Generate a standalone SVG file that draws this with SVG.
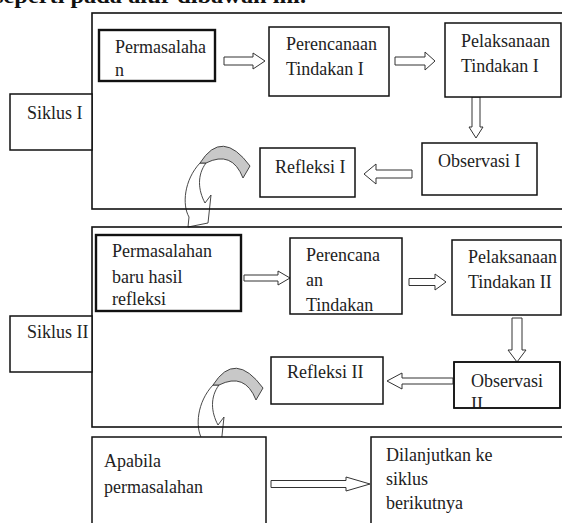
<svg xmlns="http://www.w3.org/2000/svg" width="562" height="523" viewBox="0 0 562 523">
<style>
  text { font-family: "Liberation Serif", "Times New Roman", serif; font-size: 18px; fill: #222; }
  .top { font-weight: bold; font-size: 20px; fill: #111; }
  .frame { fill: none; stroke: #111; stroke-width: 1.6; }
  .box { fill: #fff; stroke: #111; stroke-width: 1.5; }
  .thick { fill: #fff; stroke: #111; stroke-width: 2.4; }
  .blk { fill: #fff; stroke: #333; stroke-width: 1; stroke-linejoin: miter; }
  .band { fill: #c8c8c8; stroke: #333; stroke-width: 0.9; }
  .tail { fill: #fff; stroke: #333; stroke-width: 0.9; }
</style>
<defs>
  <clipPath id="obs2clip"><rect x="454" y="362" width="106" height="46"/></clipPath>
  <g id="curved">
    <path class="tail" d="M200,163 C184,180 182,205 189,217 L188,227 L208,223 L211,195 L205,203 C198,190 197,175 206,163 Z"/>
    <path class="band" d="M200,163 Q222,128 250,166 L243,178 Q232,150 206,163 Z"/>
  </g>
</defs>
<rect width="562" height="523" fill="#fff"/>
<text class="top" x="-6" y="3" textLength="312" lengthAdjust="spacingAndGlyphs">seperti pada alur dibawah ini.</text>

<g id="connectors">
  <polygon class="blk" points="224,57 253,57 253,53 265,61 253,69 253,65 224,65"/>
  <polygon class="blk" points="395,57 425,57 425,52 435,61 425,70 425,65 395,65"/>
  <polygon class="blk" points="472,97 480,97 480,127 483,127 476,138 469,127 472,127"/>
  <polygon class="blk" points="412,170 376,170 376,164 364,174 376,184 376,178 412,178"/>
  <use href="#curved"/>
  <polygon class="blk" points="244,275 278,275 278,271 290,278 278,285 278,281 244,281"/>
  <polygon class="blk" points="409,278.5 435,278.5 435,274 446,282 435,290 435,285.5 409,285.5"/>
  <polygon class="blk" points="512,318 522,318 522,350 526,350 517,362 508,350 512,350"/>
  <polygon class="blk" points="453,378 402,378 402,373 387,381 402,389 402,384 453,384"/>
  <use href="#curved" transform="translate(13,222)"/>
  <polygon class="blk" points="271,480.5 346,480.5 346,477 370,484 346,491 346,487.5 271,487.5"/>
</g>

<g id="frame-siklus-1"><rect class="frame" x="92" y="13" width="480" height="196"/></g>
<g id="frame-siklus-2"><rect class="frame" x="92" y="227" width="480" height="200"/></g>

<g id="siklus-1">
  <rect class="box" x="10" y="94" width="82" height="56"/>
  <text x="27" y="119">Siklus I</text>
</g>
<g id="permasalahan-1">
  <rect class="thick" x="99" y="30" width="116" height="51"/>
  <text x="115" y="53">Permasalaha</text>
  <text x="115" y="76">n</text>
</g>
<g id="perencanaan-1">
  <rect class="box" x="269" y="27" width="120" height="69"/>
  <text x="286" y="50">Perencanaan</text>
  <text x="286" y="75">Tindakan I</text>
</g>
<g id="pelaksanaan-1">
  <rect class="box" x="445" y="23" width="116" height="74"/>
  <text x="461" y="47">Pelaksanaan</text>
  <text x="461" y="72">Tindakan I</text>
</g>
<g id="observasi-1">
  <rect class="box" x="422" y="143" width="115" height="52"/>
  <text x="438" y="167">Observasi I</text>
</g>
<g id="refleksi-1">
  <rect class="box" x="260" y="148" width="95" height="49"/>
  <text x="275" y="173">Refleksi I</text>
</g>

<g id="siklus-2">
  <rect class="box" x="10" y="316" width="82" height="56"/>
  <text x="27" y="338">Siklus II</text>
</g>
<g id="permasalahan-2">
  <rect class="thick" x="96" y="235" width="145" height="76"/>
  <text x="112" y="257">Permasalahan</text>
  <text x="112" y="283">baru hasil</text>
  <text x="112" y="305">refleksi</text>
</g>
<g id="perencanaan-2">
  <rect class="box" x="290" y="238" width="112" height="76"/>
  <text x="306" y="261">Perencana</text>
  <text x="306" y="286">an</text>
  <text x="306" y="311">Tindakan</text>
</g>
<g id="pelaksanaan-2">
  <rect class="box" x="452" y="240" width="109" height="75"/>
  <text x="468" y="263">Pelaksanaan</text>
  <text x="468" y="288">Tindakan II</text>
</g>
<g id="observasi-2">
  <rect class="box" x="454" y="362" width="106" height="46"/>
  <g clip-path="url(#obs2clip)">
    <text x="471" y="387">Observasi</text>
    <text x="471" y="410">II</text>
  </g>
  <rect x="454" y="362" width="106" height="46" fill="none" stroke="#111" stroke-width="1.5"/>
</g>
<g id="refleksi-2">
  <rect class="box" x="271" y="357" width="112" height="47"/>
  <text x="287" y="378">Refleksi II</text>
</g>

<g id="apabila">
  <rect class="box" x="92" y="437" width="174" height="100"/>
  <text x="104" y="467">Apabila</text>
  <text x="104" y="493">permasalahan</text>
</g>
<g id="dilanjutkan">
  <rect class="box" x="371" y="437" width="200" height="100"/>
  <text x="386" y="461">Dilanjutkan ke</text>
  <text x="386" y="485">siklus</text>
  <text x="386" y="509">berikutnya</text>
</g>
</svg>
